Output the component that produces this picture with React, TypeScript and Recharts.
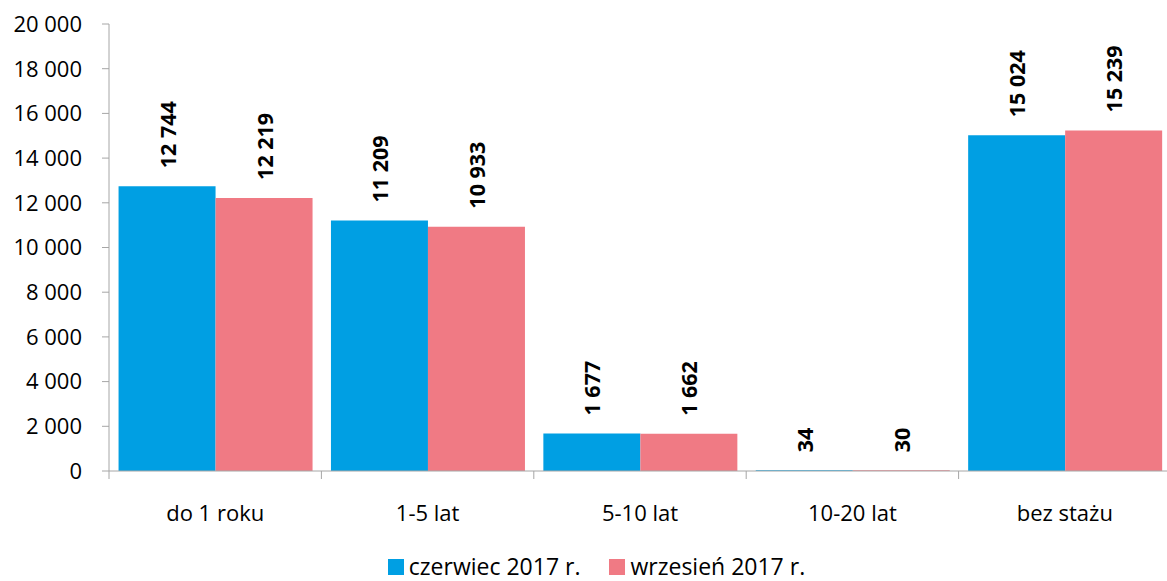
import React from 'react';
import { BarChart, Bar, XAxis, YAxis, Legend, LabelList } from 'recharts';

const categories = ['do 1 roku', '1-5 lat', '5-10 lat', '10-20 lat', 'bez stażu'];
const june2017 = [12744, 11209, 1677, 34, 15024];
const september2017 = [12219, 10933, 1662, 30, 15239];
const yTicks = [0, 2000, 4000, 6000, 8000, 10000, 12000, 14000, 16000, 18000, 20000];

const seriesNames = ['czerwiec 2017 r.', 'wrzesień 2017 r.'];

const CHART_W = 1172;
const CHART_H = 581;
const Y_AXIS_W = 109;
const MARGIN = { top: 24, right: 1, left: 0, bottom: 0 };
const FONT = '"Open Sans", sans-serif';
const AXIS_GRAY = '#a6a6a6';

const colors = {
  june: '#009fe3',
  september: '#f07a84',
};

const fmt = (v: number) => String(v).replace(/\B(?=(\d{3})+(?!\d))/g, ' ');

const data = categories.map((name, i) => ({
  name,
  june: june2017[i],
  september: september2017[i],
}));

const bandHalf = (CHART_W - Y_AXIS_W - MARGIN.left - MARGIN.right) / categories.length / 2;

const CategoryTick = (props: any) => {
  const { x, y, payload, index } = props;
  return (
    <g>
      <line x1={x - bandHalf} x2={x - bandHalf} y1={y} y2={y + 8} stroke={AXIS_GRAY} />
      {index === categories.length - 1 && (
        <line x1={x + bandHalf} x2={x + bandHalf} y1={y} y2={y + 8} stroke={AXIS_GRAY} />
      )}
      <text x={x} y={y + 50} textAnchor="middle" fontFamily={FONT} fontSize={22} fill="#000">
        {payload.value}
      </text>
    </g>
  );
};

const RotatedLabel = (props: any) => {
  const { x, y, width, value } = props;
  const cx = x + width / 2;
  const ty = y - 18;
  return (
    <text
      x={cx}
      y={ty}
      transform={`rotate(-90, ${cx}, ${ty})`}
      textAnchor="start"
      dominantBaseline="central"
      fontFamily={FONT}
      fontSize={21.5}
      fontWeight="bold"
      fill="#000"
    >
      {fmt(value)}
    </text>
  );
};

const LegendContent = (props: any) => {
  const { payload } = props;
  return (
    <div
      style={{
        height: 30,
        boxSizing: 'border-box',
        paddingTop: 4,
        paddingLeft: 26,
        lineHeight: '23px',
        fontFamily: FONT,
        fontSize: 23,
        color: '#000',
        textAlign: 'center',
        whiteSpace: 'nowrap',
      }}
    >
      {(payload || []).map((entry: any, i: number) => (
        <span key={i} style={{ marginLeft: i === 0 ? 0 : 29 }}>
          <span
            style={{
              display: 'inline-block',
              width: 16,
              height: 16,
              marginRight: 5,
              background: entry.color,
            }}
          />
          {entry.value}
        </span>
      ))}
    </div>
  );
};

export default function App() {
  return (
    <div style={{ position: 'absolute', left: 0, top: 0, width: 1167, height: CHART_H, overflow: 'hidden', background: '#fff' }}>
      <BarChart
        width={CHART_W}
        height={CHART_H}
        data={data}
        margin={MARGIN}
        barCategoryGap="4.5%"
        barGap={0}
      >
        <XAxis
          dataKey="name"
          height={80}
          tickLine={false}
          tickSize={0}
          tickMargin={0}
          axisLine={{ stroke: AXIS_GRAY }}
          tick={<CategoryTick />}
          interval={0}
        />
        <YAxis
          width={Y_AXIS_W}
          domain={[0, 20000]}
          ticks={yTicks}
          tickFormatter={fmt}
          tickSize={7}
          tickMargin={20}
          axisLine={{ stroke: AXIS_GRAY }}
          tickLine={{ stroke: AXIS_GRAY }}
          tick={{ fill: '#000', fontFamily: FONT, fontSize: 22 }}
          interval={0}
        />
        <Legend
          verticalAlign="bottom"
          align="center"
          content={<LegendContent />}
          wrapperStyle={{ left: 0, width: 1167 }}
        />
        <Bar dataKey="june" name={seriesNames[0]} fill={colors.june} isAnimationActive={false}>
          <LabelList dataKey="june" content={<RotatedLabel />} />
        </Bar>
        <Bar dataKey="september" name={seriesNames[1]} fill={colors.september} isAnimationActive={false}>
          <LabelList dataKey="september" content={<RotatedLabel />} />
        </Bar>
      </BarChart>
    </div>
  );
}
